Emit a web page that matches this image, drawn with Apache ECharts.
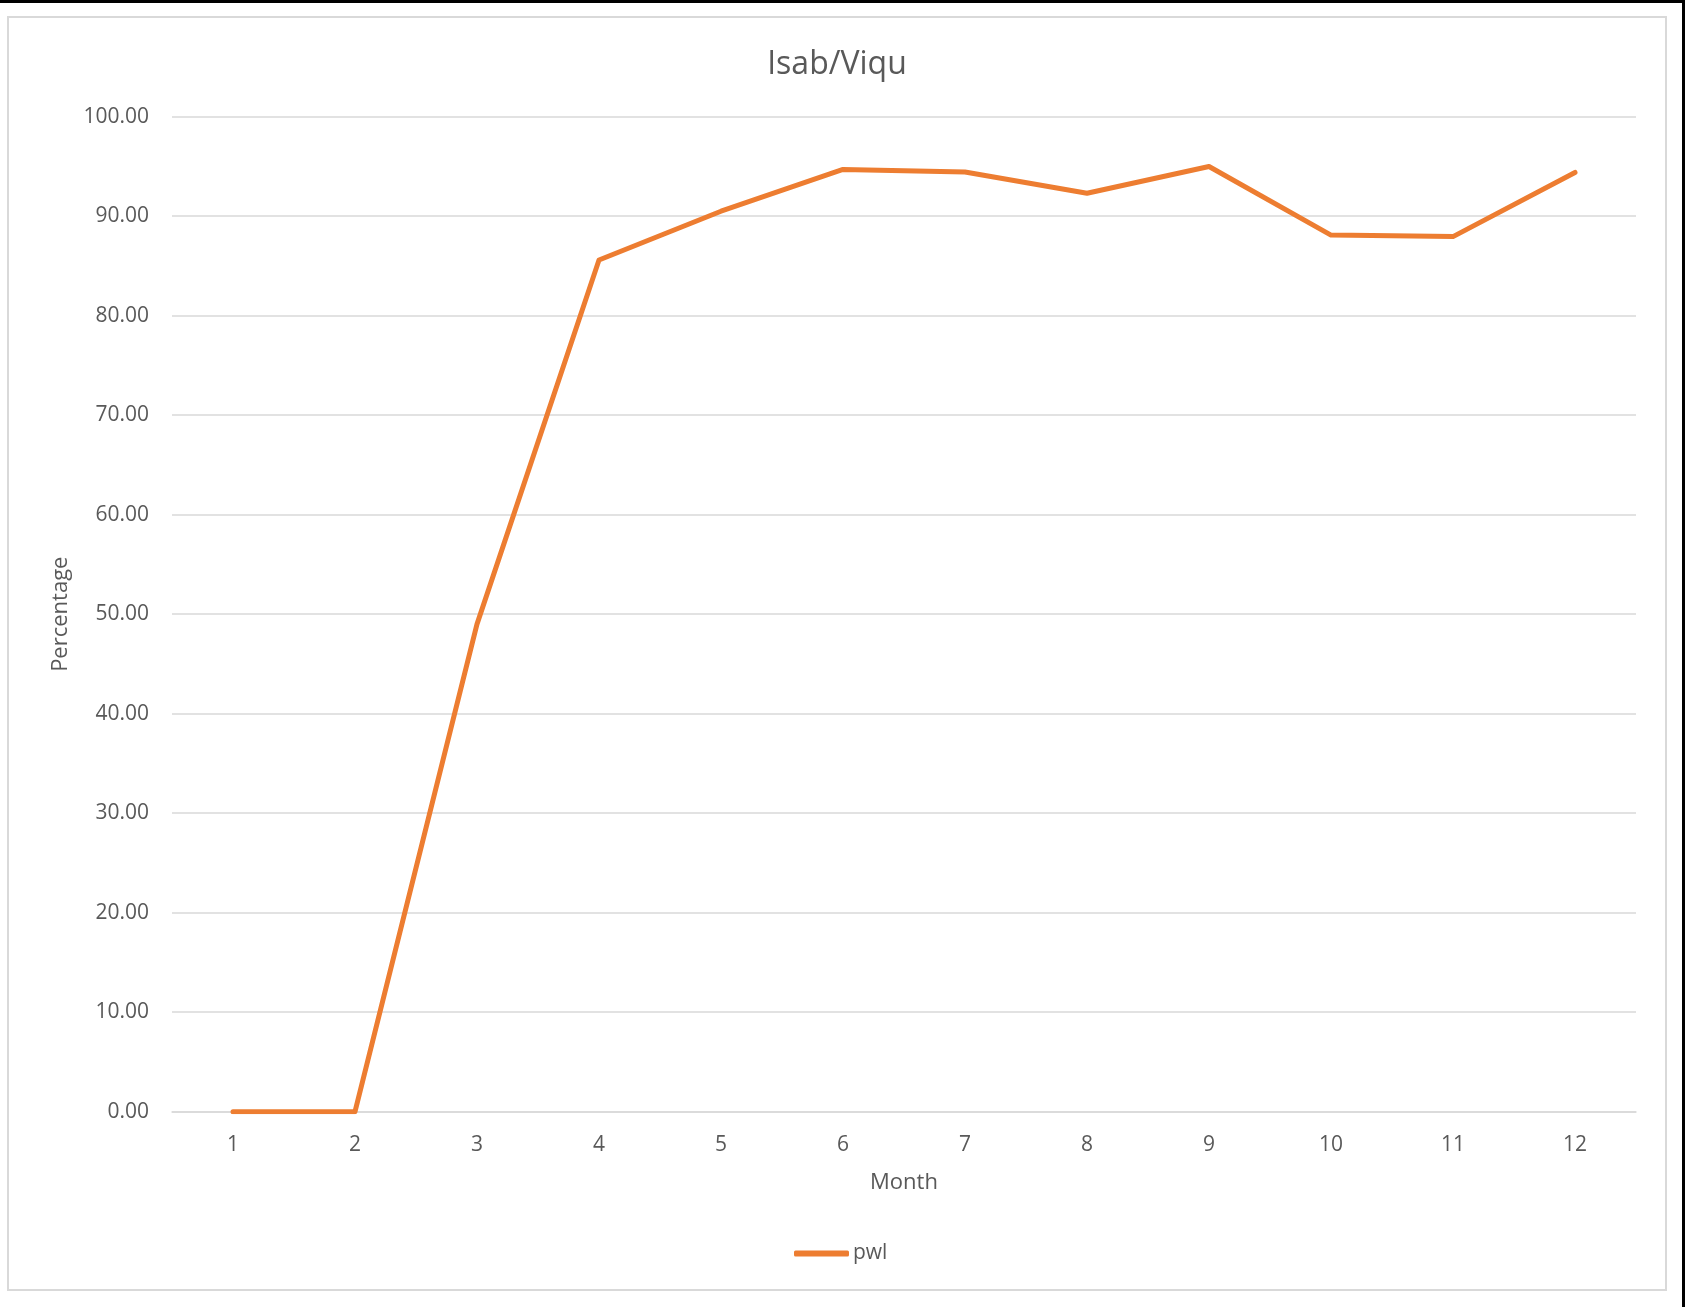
<!DOCTYPE html>
<html>
<head>
<meta charset="utf-8">
<script src="https://cdn.jsdelivr.net/npm/echarts@6/dist/echarts.min.js"></script>
<style>
  html, body { margin: 0; padding: 0; background: #fff; }
  #frame { position: absolute; left: 0; top: 0; width: 1685px; height: 1307px; box-sizing: border-box; border-top: 3px solid #000; border-right: 3px solid #000; }
  #main { position: absolute; left: 0; top: 0; width: 1685px; height: 1307px; }
</style>
</head>
<body>
<div id="main"></div>
<div id="frame"></div>
<script>
const months = ['1','2','3','4','5','6','7','8','9','10','11','12'];
const pwl = [0.00, 0.00, 49.0, 85.6, 90.5, 94.7, 94.45, 92.3, 95.0, 88.1, 87.95, 94.4];
const yTicks = { min: 0, max: 100, interval: 10 };

const chart = echarts.init(document.getElementById('main'), null, { renderer: 'canvas' });
const txt = '#595959';
const grid = '#d9d9d9';
const font = '"Open Sans", "Noto Sans", sans-serif';

chart.setOption({
  backgroundColor: '#fff',
  animation: false,
  textStyle: { fontFamily: font },
  graphic: [{
    type: 'rect',
    shape: { x: 8, y: 17, width: 1658, height: 1273 },
    style: { fill: 'none', stroke: grid, lineWidth: 2 },
    z: 0, silent: true
  }, {
    type: 'text',
    x: 837, y: 65,
    style: {
      text: 'Isab/Viqu', fill: txt, font: '32px "Open Sans", "Noto Sans", sans-serif',
      align: 'center', verticalAlign: 'middle'
    },
    silent: true
  }],
  legend: {
    data: ['pwl'],
    left: 789, top: 1238,
    icon: 'roundRect',
    itemWidth: 55, itemHeight: 6, itemGap: 10,
    textStyle: { fontFamily: font, fontSize: 21, color: txt, padding: [0, 0, 0, -1] }
  },
  grid: { left: 172, right: 49, top: 116.7, bottom: 195.3, containLabel: false },
  xAxis: {
    type: 'category',
    data: months,
    boundaryGap: true,
    name: 'Month',
    nameLocation: 'middle',
    nameGap: 60,
    nameTextStyle: { fontFamily: font, fontSize: 22, color: txt },
    axisLine: { show: true, lineStyle: { color: grid, width: 1.5 } },
    axisTick: { show: false },
    axisLabel: { fontFamily: font, fontSize: 21, color: txt, margin: 23 }
  },
  yAxis: {
    type: 'value',
    min: yTicks.min, max: yTicks.max, interval: yTicks.interval,
    name: 'Percentage',
    nameLocation: 'middle',
    nameGap: 100,
    nameRotate: 90,
    nameTextStyle: { fontFamily: font, fontSize: 22, color: txt },
    axisLine: { show: false },
    axisTick: { show: false },
    splitLine: { lineStyle: { color: grid, width: 1.5 } },
    axisLabel: { fontFamily: font, fontSize: 21, color: txt, margin: 23, formatter: v => v.toFixed(2) }
  },
  series: [{
    name: 'pwl',
    type: 'line',
    data: pwl,
    symbol: 'none',
    lineStyle: { color: '#ED7D31', width: 5, cap: 'round', join: 'round' },
    itemStyle: { color: '#ED7D31' }
  }]
});
</script>
</body>
</html>
